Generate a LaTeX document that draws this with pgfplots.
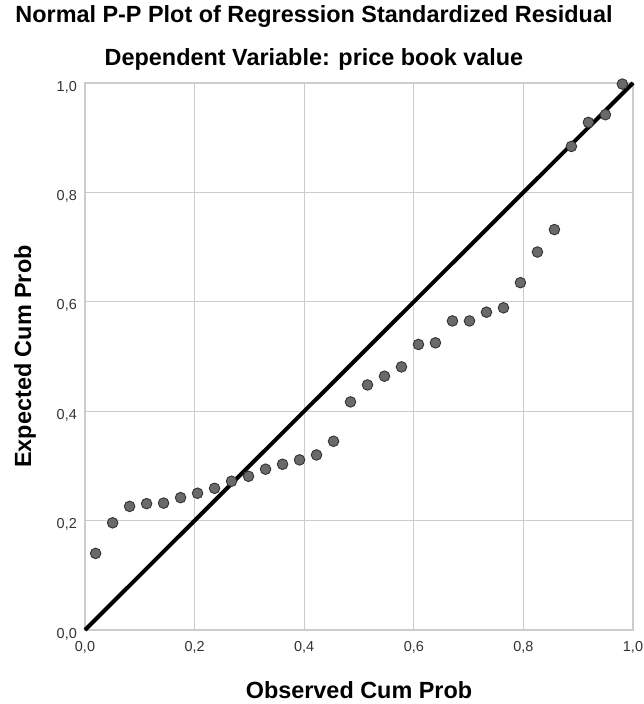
\documentclass[border=0pt]{standalone}
\usepackage{pgfplots}
\pgfplotsset{compat=1.18}
\usepackage{fontspec}
\setmainfont{Liberation Sans}

\definecolor{dotfill}{HTML}{6A6A6A}
\definecolor{gridgray}{HTML}{CCCCCC}

\begin{document}
\begin{tikzpicture}
  \begin{axis}[
    name=pp,
    scale only axis,
    width=548bp, height=547bp,
    xmin=0, xmax=1, ymin=0, ymax=1,
    xtick={0,0.2,...,1.0}, ytick={0,0.2,...,1.0},
    major tick length=0pt,
    grid=major,
    grid style={gridgray, line width=1.3pt},
    axis line style={gridgray, line width=1.3pt},
    /pgf/number format/fixed,
    /pgf/number format/fixed zerofill,
    /pgf/number format/precision=1,
    /pgf/number format/use comma,
    /pgf/number format/assume math mode=true,
    tick label style={font=\fontsize{14.5}{17}\selectfont, text=black!80, inner sep=0pt},
    xticklabel style={yshift=-11bp},
    yticklabel style={xshift=-8bp, yshift=-4bp},
    xlabel={Observed Cum Prob},
    ylabel={Expected Cum Prob},
    label style={font=\fontsize{23.5}{27}\selectfont\bfseries, inner sep=0pt},
    xlabel style={at={(axis description cs:0.5,0)}, anchor=center, yshift=-60bp},
    ylabel style={at={(axis description cs:0,0.5)}, anchor=center, yshift=60bp},
    title={Normal P-P Plot of Regression Standardized Residual\\[16bp]Dependent Variable: price book value},
    title style={font=\fontsize{23.5}{28}\selectfont\bfseries, align=center,
      at={(axis description cs:0.5,1)}, anchor=south, inner sep=0pt, xshift=-45bp, yshift=6bp},
    clip=false,
  ]
    \addplot[black, line width=4bp, no marks] coordinates {(0,0) (1,1)};
    \addplot[only marks, mark=*, mark size=5.3bp,
      mark options={fill=dotfill, draw=black!80, line width=0.9pt}]
      table[row sep=\\] {
      x y \\
      0.0194 0.140 \\
      0.0504 0.196 \\
      0.0814 0.226 \\
      0.1124 0.231 \\
      0.1434 0.232 \\
      0.1744 0.242 \\
      0.2054 0.250 \\
      0.2364 0.259 \\
      0.2674 0.272 \\
      0.2984 0.281 \\
      0.3295 0.294 \\
      0.3605 0.303 \\
      0.3915 0.311 \\
      0.4225 0.320 \\
      0.4535 0.345 \\
      0.4845 0.417 \\
      0.5155 0.448 \\
      0.5465 0.464 \\
      0.5775 0.481 \\
      0.6085 0.522 \\
      0.6395 0.525 \\
      0.6705 0.565 \\
      0.7016 0.565 \\
      0.7326 0.581 \\
      0.7636 0.589 \\
      0.7946 0.635 \\
      0.8256 0.691 \\
      0.8566 0.732 \\
      0.8876 0.884 \\
      0.9186 0.928 \\
      0.9496 0.942 \\
      0.9806 0.998 \\
    };
  \end{axis}
  \pgfresetboundingbox
  \path ([xshift=-85bp, yshift=-74bp]pp.south west) rectangle ([xshift=11bp, yshift=83bp]pp.north east);
\end{tikzpicture}
\end{document}
